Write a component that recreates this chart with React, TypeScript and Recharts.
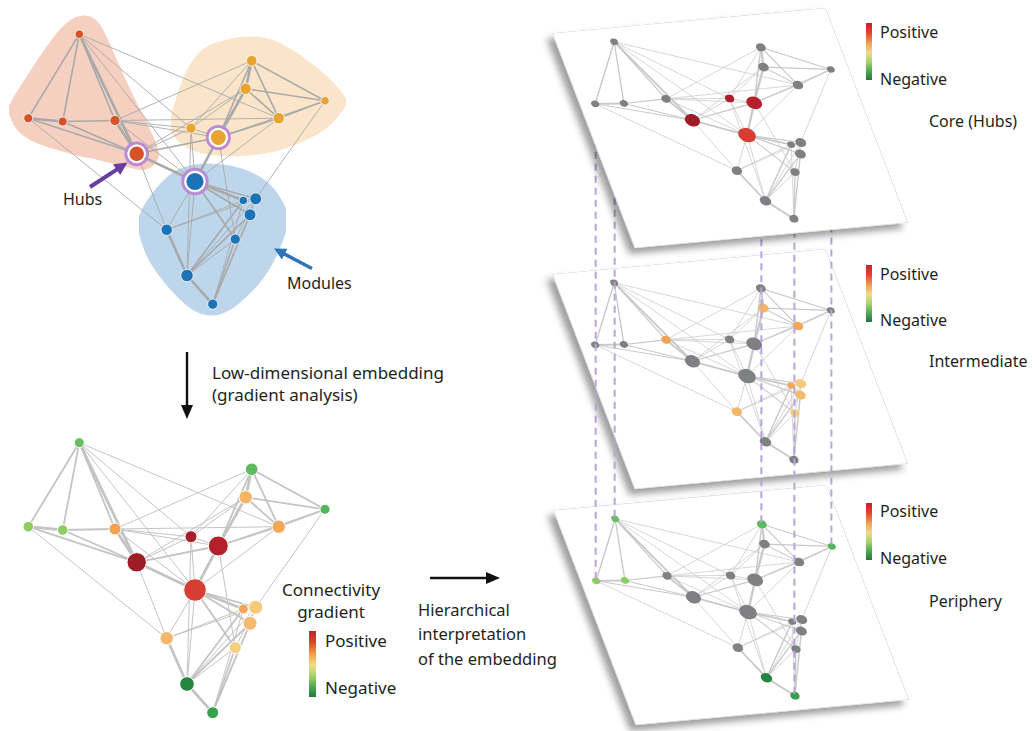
import React from 'react';
import { ComposedChart, Scatter, XAxis, YAxis, ReferenceLine, Area } from 'recharts';

// ---------------- DATA ----------------
// network nodes (embedding layout, page units)
const nodeIds = [1, 2, 3, 4, 5, 6, 7, 8, 9, 10, 11, 12, 13, 14, 15, 16, 17, 18, 19];
const nodeX = [79.3, 251.7, 325, 28.3, 62.7, 115, 245.7, 278.7, 191, 218.3, 136.7, 195, 243.3, 255.7, 250, 166.7, 235.3, 187, 212.7];
const nodeY = [442.7, 469.3, 509.3, 526.7, 530, 529, 497.3, 526.7, 536.7, 546, 562.3, 590, 609, 607.3, 623.3, 638.3, 647.7, 684, 712.7];
const nodeDegree = [4, 6.6, 4, 4.6, 4.6, 6, 7.4, 7.4, 6, 14, 13.4, 16.6, 4, 8, 8, 7.4, 6, 8.6, 6];
const connectivityGradient = [-0.55, -0.6, -0.65, -0.4, -0.4, 0.45, 0.35, 0.42, 0.95, 0.9, 1.0, 0.75, 0.43, 0.22, 0.32, 0.34, 0.18, -0.95, -0.8];
const moduleLabels = ['A', 'B', 'B', 'A', 'A', 'A', 'B', 'B', 'B', 'B', 'A', 'C', 'C', 'C', 'C', 'C', 'C', 'C', 'C'];
const hubIds = [10, 11, 12];
const coreIds = [9, 10, 11, 12];
const intermediateIds = [6, 7, 8, 13, 14, 15, 16, 17];
const peripheryIds = [1, 2, 3, 4, 5, 18, 19];
const linkedIds = [1, 2, 3, 4, 19];
const tierLabels = ['Core (Hubs)', 'Intermediate', 'Periphery'];

// edges: [from, to, weight class]
const edgeList: [number, number, number][] = [
  [1, 4, 2], [1, 5, 2], [1, 6, 2], [1, 11, 3], [1, 9, 1], [1, 12, 1], [1, 8, 1],
  [2, 7, 3], [2, 3, 2], [2, 8, 2], [2, 9, 1], [2, 10, 2], [2, 6, 1],
  [3, 7, 2], [3, 8, 2], [3, 10, 1], [3, 14, 1],
  [4, 5, 3], [4, 11, 2], [4, 16, 1],
  [5, 6, 2], [5, 11, 2],
  [6, 11, 3], [6, 9, 1], [6, 10, 1], [6, 8, 1], [6, 12, 1],
  [7, 8, 2], [7, 9, 1], [7, 10, 3], [7, 11, 1],
  [8, 10, 2], [8, 12, 1],
  [9, 10, 1], [9, 11, 1], [9, 12, 1], [9, 18, 1],
  [10, 11, 2], [10, 12, 3], [10, 17, 1],
  [11, 12, 3], [11, 16, 1],
  [12, 13, 3], [12, 14, 2], [12, 15, 2], [12, 16, 1], [12, 17, 2], [12, 18, 1],
  [13, 16, 1], [13, 18, 2], [13, 19, 1], [13, 14, 1],
  [14, 18, 1], [14, 15, 1], [14, 16, 1],
  [15, 18, 2], [15, 19, 2],
  [16, 18, 3],
  [17, 18, 1], [17, 19, 2], [17, 14, 1],
  [18, 19, 3],
];

// module hull outlines: [x, upper y, lower y] (top-left network units)
const blobModuleA: [number, number, number][] = [
  [9, 106, 114], [14, 96, 127], [25, 79, 138], [40, 56, 145], [60, 27, 151], [78, 14, 156], [95, 16, 159],
  [105, 32, 162], [120, 67, 165], [135, 100, 169], [145, 118, 171], [155, 140, 165], [159, 152, 157],
];
const blobModuleB: [number, number, number][] = [
  [171, 116, 132], [178, 90, 142], [190, 62, 150], [205, 45, 155], [230, 38, 157], [260, 35, 155],
  [283, 43, 150], [310, 62, 139], [330, 78, 127], [342, 92, 112], [346, 99, 105],
];
const blobModuleC: [number, number, number][] = [
  [139, 216, 234], [145, 203, 254], [155, 189, 271], [170, 173, 290], [185, 166, 305], [200, 163, 315],
  [220, 164, 317], [240, 167, 304], [263, 177, 281], [277, 191, 257], [286, 208, 232],
];

// annotation arrows: from -> to (page units)
const annotationArrows = [
  { name: 'hubs', from: [90, 187], to: [127.5, 162.5] },
  { name: 'modules', from: [312, 268.5], to: [274, 248.5] },
  { name: 'down', from: [187, 352], to: [187, 419] },
  { name: 'right', from: [430, 578], to: [500, 578] },
];

// ---------------- LAYOUT / STYLE ----------------
const PAGE_W = 1032;
const PAGE_H = 731;
const TOP_SHIFT = -408.5;
const PANEL = { x0: 9.2, y0: 422.4, w: 338, h: 311, a: 0.81, b: -0.0752, c: 0.2655, d: 0.6925, tx: 552, ty: 33 };
const PANEL_OFFSETS = [{ dx: 0, dy: 0 }, { dx: 0, dy: 241 }, { dx: 1, dy: 477 }];
const MODULE_COLORS: Record<string, string> = { A: '#d75229', B: '#e8a431', C: '#1d73b7' };
const BLOB_COLORS: Record<string, string> = { A: '#f5cfc0', B: '#fbe5ca', C: '#bdd6eb' };
const ARROW_STYLE: Record<string, { color: string; w: number; hl: number; hw: number }> = {
  hubs: { color: '#6a3d9f', w: 4, hl: 13, hw: 13 },
  modules: { color: '#2f76b7', w: 3.5, hl: 12, hw: 12 },
  down: { color: '#111', w: 2.4, hl: 14, hw: 12 },
  right: { color: '#111', w: 2.6, hl: 14, hw: 12 },
};
const FONT = '"Noto Sans", "Open Sans", sans-serif';
const TEXT_COLOR = '#231f20';

const GRAD_STOPS: [number, string][] = [
  [-1, '#1d7a3b'], [-0.8, '#38a04f'], [-0.6, '#5dba5e'], [-0.4, '#8ecd63'], [0, '#f1de8a'],
  [0.2, '#f6cd7c'], [0.35, '#f5b569'], [0.45, '#f3a152'], [0.7, '#e14b36'], [0.85, '#bf222e'], [1, '#9e1c26'],
];
function hexToRgb(h: string) {
  return [parseInt(h.slice(1, 3), 16), parseInt(h.slice(3, 5), 16), parseInt(h.slice(5, 7), 16)];
}
function gradientColor(v: number) {
  for (let i = 0; i < GRAD_STOPS.length - 1; i++) {
    const [v0, c0] = GRAD_STOPS[i];
    const [v1, c1] = GRAD_STOPS[i + 1];
    if (v <= v1 || i === GRAD_STOPS.length - 2) {
      const t = Math.max(0, Math.min(1, (v - v0) / (v1 - v0)));
      const a = hexToRgb(c0), b = hexToRgb(c1);
      const m = a.map((x, k) => Math.round(x + (b[k] - x) * t));
      return `rgb(${m[0]},${m[1]},${m[2]})`;
    }
  }
  return GRAD_STOPS[0][1];
}
const radius = (deg: number) => 3 + 0.5 * deg;

const baseNodes = nodeIds.map((id, i) => ({
  id, x: nodeX[i], y: nodeY[i], deg: nodeDegree[i], g: connectivityGradient[i], mod: moduleLabels[i],
}));

function project(x: number, y: number, off: { dx: number; dy: number }) {
  const u = x - PANEL.x0, v = y - PANEL.y0;
  return [PANEL.tx + off.dx + PANEL.a * u + PANEL.c * v, PANEL.ty + off.dy + PANEL.b * u + PANEL.d * v];
}

// ---------------- RENDER HELPERS ----------------
const NodeDot = (props: any) => {
  const { cx, cy, payload } = props;
  if (cx == null || cy == null) return null;
  return (
    <g>
      {payload.hub && <circle cx={cx} cy={cy} r={payload.r + 2.7} fill="none" stroke="#bb8ad3" strokeWidth={2.8} />}
      <circle cx={cx} cy={cy} r={payload.r} fill={payload.fill} stroke={payload.stroke} strokeWidth={payload.sw} />
    </g>
  );
};

function edgeLines(nodes: { x: number; y: number }[], key: string, color: string, widths: number[]) {
  return edgeList.map(([a, b, w], i) => {
    const p = nodes[a - 1], q = nodes[b - 1];
    return (
      <ReferenceLine
        key={key + i}
        segment={[{ x: p.x, y: p.y }, { x: q.x, y: q.y }]}
        stroke={color}
        strokeWidth={widths[w - 1]}
        strokeOpacity={1}
        ifOverflow="visible"
      />
    );
  });
}

const makeArrowShape = (st: { color: string; w: number; hl: number; hw: number }) => (props: any) => {
  const { x1, y1, x2, y2 } = props;
  if (x1 == null) return null;
  const ang = Math.atan2(y2 - y1, x2 - x1);
  const cs = Math.cos(ang), sn = Math.sin(ang);
  const bx = x2 - st.hl * cs, by = y2 - st.hl * sn;
  const p1 = [bx + (st.hw / 2) * sn, by - (st.hw / 2) * cs];
  const p2 = [bx - (st.hw / 2) * sn, by + (st.hw / 2) * cs];
  return (
    <g>
      <line x1={x1} y1={y1} x2={bx + cs} y2={by + sn} stroke={st.color} strokeWidth={st.w} />
      <polygon points={`${x2},${y2} ${p1[0]},${p1[1]} ${p2[0]},${p2[1]}`} fill={st.color} />
    </g>
  );
};

// blob rows for range areas
const blobRows: any[] = [];
blobModuleA.forEach(([x, lo, hi]) => blobRows.push({ x, A: [lo, hi] }));
blobModuleB.forEach(([x, lo, hi]) => blobRows.push({ x, B: [lo, hi] }));
blobModuleC.forEach(([x, lo, hi]) => blobRows.push({ x, C: [lo, hi] }));
blobRows.sort((p, q) => p.x - q.x);

// ---------------- COMPONENTS ----------------
function Panel({ tier, z }: { tier: number; z: number }) {
  const tierIds = [coreIds, intermediateIds, peripheryIds][tier];
  const off = PANEL_OFFSETS[tier];
  const nodes = baseNodes.map((n) => ({
    x: n.x, y: n.y, r: radius(n.deg) * 0.92,
    fill: tierIds.includes(n.id) ? gradientColor(n.g) : '#7e8084',
    stroke: 'none', sw: 0, hub: false,
  }));
  return (
    <div
      style={{
        position: 'absolute', left: 0, top: 0, width: PANEL.w, height: PANEL.h,
        transformOrigin: '0 0',
        transform: `matrix(${PANEL.a},${PANEL.b},${PANEL.c},${PANEL.d},${PANEL.tx + off.dx},${PANEL.ty + off.dy})`,
        background: '#fff',
        boxShadow: '-9px 7px 9px rgba(0,0,0,0.38), inset 0 0 0 1px #d9d9d9',
        zIndex: z,
      }}
    >
      <ComposedChart width={PANEL.w} height={PANEL.h} margin={{ top: 0, right: 0, bottom: 0, left: 0 }}>
        <XAxis type="number" dataKey="x" domain={[PANEL.x0, PANEL.x0 + PANEL.w]} hide allowDataOverflow />
        <YAxis type="number" dataKey="y" domain={[PANEL.y0, PANEL.y0 + PANEL.h]} reversed hide allowDataOverflow />
        {edgeLines(nodes, 'p' + tier, '#c9c9c9', [0.9, 1.6, 2.6])}
        <Scatter data={nodes} dataKey="y" shape={NodeDot} isAnimationActive={false} />
      </ComposedChart>
    </div>
  );
}

function PageChart() {
  const topNodes = baseNodes.map((n) => {
    const hub = hubIds.includes(n.id);
    return {
      x: n.x, y: n.y + TOP_SHIFT, r: radius(n.deg) * 0.85,
      fill: MODULE_COLORS[n.mod], stroke: '#fff', sw: hub ? 2 : 0.8, hub,
    };
  });
  const embedNodes = baseNodes.map((n) => ({
    x: n.x, y: n.y, r: radius(n.deg), fill: gradientColor(n.g), stroke: '#fff', sw: 1, hub: false,
  }));
  const dashed = linkedIds.map((id) => {
    const n = baseNodes[id - 1];
    const [xa, ya] = project(n.x, n.y, PANEL_OFFSETS[0]);
    const [xb, yb] = project(n.x, n.y, PANEL_OFFSETS[2]);
    const xm = (xa + xb) / 2;
    return (
      <ReferenceLine
        key={'d' + id}
        segment={[{ x: xm, y: ya }, { x: xm, y: yb }]}
        stroke="#b9a3d8"
        strokeWidth={2}
        strokeDasharray="7 5"
        ifOverflow="visible"
      />
    );
  });
  return (
    <div style={{ position: 'absolute', left: 0, top: 0, zIndex: 3 }}>
      <ComposedChart width={PAGE_W} height={PAGE_H} data={blobRows} margin={{ top: 0, right: 0, bottom: 0, left: 0 }}>
        <XAxis type="number" dataKey="x" domain={[0, PAGE_W]} hide allowDataOverflow />
        <YAxis type="number" dataKey="y" domain={[0, PAGE_H]} reversed hide allowDataOverflow />
        {(['A', 'B', 'C'] as const).map((k) => (
          <Area
            key={k}
            dataKey={k}
            type="basis"
            stroke="none"
            fill={BLOB_COLORS[k]}
            fillOpacity={1}
            connectNulls
            dot={false}
            activeDot={false}
            isAnimationActive={false}
          />
        ))}
        {edgeLines(topNodes, 't', '#a9a9a9', [0.9, 1.6, 2.6])}
        {edgeLines(embedNodes, 'e', '#c4c4c4', [1, 1.8, 2.8])}
        <Scatter data={topNodes} dataKey="y" shape={NodeDot} isAnimationActive={false} />
        <Scatter data={embedNodes} dataKey="y" shape={NodeDot} isAnimationActive={false} />
        {annotationArrows.map((ar) => (
          <ReferenceLine
            key={ar.name}
            segment={[{ x: ar.from[0], y: ar.from[1] }, { x: ar.to[0], y: ar.to[1] }]}
            stroke={ARROW_STYLE[ar.name].color}
            ifOverflow="visible"
            shape={makeArrowShape(ARROW_STYLE[ar.name])}
          />
        ))}
        {dashed}
      </ComposedChart>
    </div>
  );
}

function ColorBar({ x, y, w, h }: { x: number; y: number; w: number; h: number }) {
  return <rect x={x} y={y} width={w} height={h} fill="url(#cbar)" />;
}

function TextLayer() {
  const t = (x: number, y: number, s: string, size = 16, anchor: 'start' | 'middle' = 'start') => (
    <text x={x} y={y} fontSize={size} fill={TEXT_COLOR} fontFamily={FONT} textAnchor={anchor}>{s}</text>
  );
  const rightBlocks = [
    { bar: 23, pos: 38, neg: 85, lab: 127 },
    { bar: 265, pos: 280, neg: 326, lab: 367 },
    { bar: 503, pos: 517, neg: 564, lab: 607 },
  ];
  return (
    <svg width={PAGE_W} height={PAGE_H} style={{ position: 'absolute', left: 0, top: 0, zIndex: 10, pointerEvents: 'none' }}>
      <defs>
        <linearGradient id="cbar" x1="0" y1="0" x2="0" y2="1">
          <stop offset="0" stopColor="#c81f2c" />
          <stop offset="0.18" stopColor="#e2472f" />
          <stop offset="0.36" stopColor="#f4a24f" />
          <stop offset="0.52" stopColor="#f0dc8a" />
          <stop offset="0.68" stopColor="#a6d36b" />
          <stop offset="0.86" stopColor="#45a650" />
          <stop offset="1" stopColor="#22763a" />
        </linearGradient>
      </defs>
      {t(63, 205, 'Hubs')}
      {t(287, 289, 'Modules')}
      {t(212, 379, 'Low-dimensional embedding', 17)}
      {t(212, 401, '(gradient analysis)', 17)}
      {t(331, 596, 'Connectivity', 17, 'middle')}
      {t(331, 618, 'gradient', 17, 'middle')}
      <ColorBar x={309} y={631} w={7} h={66} />
      {t(325, 647, 'Positive', 17)}
      {t(325, 694, 'Negative', 17)}
      {t(418, 616, 'Hierarchical', 16.5)}
      {t(418, 640, 'interpretation', 16.5)}
      {t(418, 665, 'of the embedding', 16.5)}
      {rightBlocks.map((b, i) => (
        <g key={i}>
          <ColorBar x={866} y={b.bar} w={6} h={57} />
          {t(880, b.pos, 'Positive')}
          {t(880, b.neg, 'Negative')}
          {t(929, b.lab, tierLabels[i])}
        </g>
      ))}
    </svg>
  );
}

export default function App() {
  return (
    <div style={{ position: 'absolute', left: 0, top: 0, width: PAGE_W, height: PAGE_H, background: '#fff', overflow: 'hidden' }}>
      <Panel tier={2} z={1} />
      <Panel tier={1} z={2} />
      <PageChart />
      <Panel tier={0} z={4} />
      <TextLayer />
    </div>
  );
}
